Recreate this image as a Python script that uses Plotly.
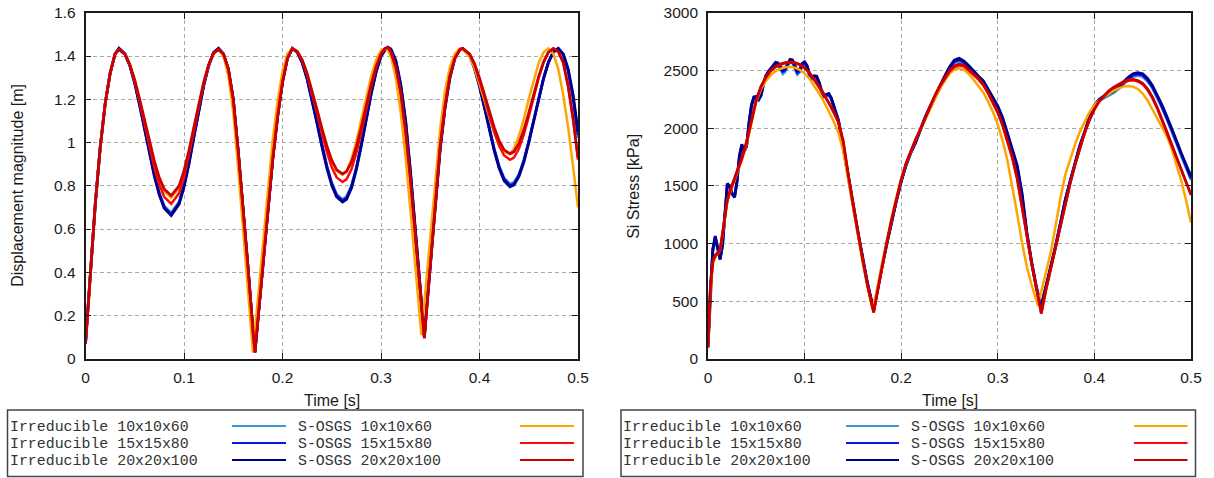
import plotly.graph_objects as go

W, H = 1214, 478

# ---------------- data: displacement magnitude [m] ----------------
D_T = [0, 0.005, 0.01, 0.015, 0.02, 0.025, 0.03, 0.034, 0.04, 0.045,
       0.05, 0.055, 0.06, 0.065, 0.07, 0.075, 0.08, 0.087, 0.095, 0.1,
       0.105, 0.11, 0.115, 0.12, 0.125, 0.13, 0.135, 0.14, 0.145, 0.15,
       0.155, 0.16, 0.165, 0.17, 0.172, 0.175, 0.18, 0.185, 0.19, 0.195,
       0.2, 0.205, 0.21, 0.215, 0.22, 0.225, 0.23, 0.235, 0.24, 0.245,
       0.25, 0.255, 0.261, 0.265, 0.27, 0.275, 0.28, 0.285, 0.29, 0.295,
       0.3, 0.304, 0.307, 0.31, 0.315, 0.32, 0.325, 0.33, 0.335, 0.341,
       0.344, 0.348, 0.352, 0.356, 0.36, 0.365, 0.37, 0.375, 0.38, 0.383,
       0.39, 0.395, 0.4, 0.405, 0.41, 0.415, 0.42, 0.425, 0.431, 0.435,
       0.44, 0.445, 0.45, 0.455, 0.46, 0.465, 0.47, 0.475, 0.48, 0.485,
       0.49, 0.495, 0.5]

D_IRR10 = [0.07, 0.40, 0.72, 0.98, 1.18, 1.32, 1.41, 1.435, 1.41, 1.358,
           1.278, 1.178, 1.068, 0.956, 0.853, 0.767, 0.707, 0.675, 0.726, 0.805,
           0.909, 1.030, 1.152, 1.265, 1.355, 1.415, 1.435, 1.41, 1.34, 1.20,
           0.96, 0.70, 0.42, 0.13, 0.035, 0.18, 0.42, 0.67, 0.92, 1.12,
           1.28, 1.39, 1.435, 1.418, 1.372, 1.298, 1.204, 1.099, 0.993, 0.895,
           0.815, 0.761, 0.737, 0.750, 0.801, 0.886, 0.994, 1.113, 1.229, 1.329,
           1.399, 1.428, 1.44, 1.43, 1.375, 1.26, 1.09, 0.85, 0.58, 0.26,
           0.10, 0.33, 0.55, 0.77, 0.975, 1.17, 1.31, 1.395, 1.43, 1.435,
           1.404, 1.345, 1.264, 1.168, 1.067, 0.972, 0.892, 0.836, 0.808, 0.816,
           0.854, 0.920, 1.007, 1.106, 1.206, 1.298, 1.372, 1.42, 1.435, 1.405,
           1.33, 1.20, 1.02]

D_IRR15 = [0.07, 0.40, 0.72, 0.98, 1.18, 1.32, 1.41, 1.435, 1.41, 1.357,
           1.276, 1.175, 1.064, 0.951, 0.848, 0.762, 0.701, 0.668, 0.720, 0.800,
           0.905, 1.027, 1.150, 1.264, 1.355, 1.416, 1.435, 1.41, 1.34, 1.20,
           0.96, 0.70, 0.42, 0.13, 0.03, 0.18, 0.42, 0.67, 0.92, 1.12,
           1.28, 1.39, 1.435, 1.418, 1.371, 1.296, 1.201, 1.095, 0.988, 0.889,
           0.809, 0.755, 0.731, 0.744, 0.795, 0.881, 0.990, 1.110, 1.227, 1.328,
           1.399, 1.428, 1.44, 1.431, 1.378, 1.265, 1.095, 0.855, 0.585, 0.265,
           0.10, 0.325, 0.545, 0.765, 0.97, 1.165, 1.305, 1.392, 1.43, 1.435,
           1.404, 1.344, 1.262, 1.165, 1.063, 0.967, 0.886, 0.830, 0.802, 0.810,
           0.848, 0.915, 1.003, 1.103, 1.204, 1.297, 1.371, 1.42, 1.435, 1.408,
           1.335, 1.21, 1.035]

D_IRR20 = [0.07, 0.40, 0.72, 0.98, 1.18, 1.32, 1.41, 1.435, 1.41, 1.356,
           1.274, 1.172, 1.061, 0.947, 0.843, 0.757, 0.696, 0.663, 0.715, 0.795,
           0.901, 1.024, 1.149, 1.264, 1.355, 1.416, 1.435, 1.41, 1.34, 1.20,
           0.96, 0.70, 0.42, 0.13, 0.03, 0.18, 0.42, 0.67, 0.92, 1.12,
           1.28, 1.39, 1.435, 1.418, 1.370, 1.294, 1.198, 1.091, 0.983, 0.884,
           0.803, 0.749, 0.725, 0.738, 0.790, 0.876, 0.986, 1.107, 1.225, 1.327,
           1.399, 1.428, 1.44, 1.432, 1.38, 1.27, 1.10, 0.86, 0.59, 0.27,
           0.10, 0.32, 0.54, 0.76, 0.967, 1.16, 1.30, 1.39, 1.43, 1.435,
           1.404, 1.343, 1.260, 1.162, 1.059, 0.962, 0.881, 0.824, 0.796, 0.804,
           0.843, 0.910, 0.999, 1.100, 1.202, 1.296, 1.371, 1.419, 1.435, 1.41,
           1.34, 1.22, 1.05]

D_SOS10 = [0.07, 0.40, 0.72, 0.98, 1.18, 1.32, 1.41, 1.43, 1.409, 1.360,
           1.288, 1.197, 1.098, 0.997, 0.905, 0.828, 0.775, 0.745, 0.791, 0.862,
           0.956, 1.065, 1.176, 1.278, 1.359, 1.413, 1.43, 1.40, 1.31, 1.14,
           0.88, 0.61, 0.33, 0.03, 0.13, 0.28, 0.53, 0.78, 1.01, 1.19,
           1.33, 1.41, 1.435, 1.421, 1.381, 1.318, 1.240, 1.151, 1.063, 0.981,
           0.915, 0.870, 0.851, 0.869, 0.923, 1.006, 1.106, 1.210, 1.306, 1.381,
           1.426, 1.435, 1.425, 1.40, 1.30, 1.14, 0.93, 0.68, 0.42, 0.11,
           0.26, 0.47, 0.68, 0.89, 1.06, 1.24, 1.35, 1.41, 1.435, 1.43,
           1.397, 1.344, 1.274, 1.195, 1.116, 1.045, 0.990, 0.956, 0.949, 0.973,
           1.030, 1.109, 1.201, 1.291, 1.367, 1.417, 1.435, 1.41, 1.34, 1.22,
           1.07, 0.89, 0.70]

D_SOS15 = [0.07, 0.40, 0.72, 0.98, 1.18, 1.32, 1.41, 1.43, 1.408, 1.357,
           1.282, 1.188, 1.084, 0.979, 0.883, 0.804, 0.748, 0.717, 0.765, 0.839,
           0.937, 1.050, 1.166, 1.272, 1.357, 1.412, 1.43, 1.41, 1.34, 1.20,
           0.96, 0.70, 0.42, 0.13, 0.03, 0.18, 0.42, 0.67, 0.92, 1.12,
           1.28, 1.39, 1.435, 1.420, 1.378, 1.312, 1.229, 1.137, 1.043, 0.957,
           0.886, 0.839, 0.818, 0.830, 0.876, 0.952, 1.048, 1.155, 1.258, 1.346,
           1.408, 1.435, 1.44, 1.42, 1.35, 1.23, 1.05, 0.82, 0.56, 0.25,
           0.095, 0.32, 0.55, 0.77, 0.98, 1.17, 1.31, 1.39, 1.43, 1.435,
           1.408, 1.360, 1.291, 1.211, 1.127, 1.049, 0.984, 0.940, 0.920, 0.930,
           0.971, 1.037, 1.120, 1.211, 1.298, 1.369, 1.417, 1.435, 1.42, 1.37,
           1.26, 1.11, 0.92]

D_SOS20 = [0.07, 0.40, 0.72, 0.98, 1.18, 1.32, 1.41, 1.43, 1.409, 1.361,
           1.290, 1.200, 1.103, 1.003, 0.913, 0.837, 0.784, 0.755, 0.800, 0.870,
           0.963, 1.071, 1.180, 1.280, 1.360, 1.413, 1.43, 1.41, 1.34, 1.20,
           0.96, 0.70, 0.42, 0.13, 0.03, 0.18, 0.42, 0.67, 0.92, 1.12,
           1.28, 1.39, 1.435, 1.421, 1.382, 1.320, 1.242, 1.154, 1.066, 0.985,
           0.919, 0.874, 0.855, 0.866, 0.909, 0.981, 1.072, 1.171, 1.269, 1.351,
           1.410, 1.435, 1.44, 1.42, 1.35, 1.23, 1.05, 0.82, 0.56, 0.25,
           0.095, 0.32, 0.55, 0.77, 0.98, 1.17, 1.31, 1.39, 1.43, 1.435,
           1.410, 1.364, 1.299, 1.223, 1.144, 1.070, 1.008, 0.966, 0.948, 0.958,
           0.996, 1.059, 1.137, 1.223, 1.305, 1.373, 1.418, 1.435, 1.42, 1.37,
           1.26, 1.11, 0.93]

# ---------------- data: Si stress [kPa] ----------------
IS_T = [0, 0.0025, 0.005, 0.0075, 0.01, 0.0125, 0.015, 0.0175, 0.02, 0.0225,
        0.025, 0.0275, 0.03, 0.0325, 0.035, 0.0375, 0.04, 0.0425, 0.045, 0.0475,
        0.05, 0.0525, 0.055, 0.0575, 0.06, 0.0625, 0.065, 0.0675, 0.07, 0.0725,
        0.075, 0.0775, 0.08, 0.0825, 0.085, 0.0875, 0.09, 0.0925, 0.095, 0.0975,
        0.1, 0.1025, 0.105, 0.1075, 0.11, 0.1125, 0.115, 0.1175, 0.12, 0.1225,
        0.125, 0.1275, 0.13, 0.1325, 0.135, 0.1375, 0.14, 0.145, 0.15, 0.155,
        0.16, 0.165, 0.1715, 0.175, 0.18, 0.185, 0.19, 0.195, 0.2, 0.205,
        0.21, 0.215, 0.22, 0.225, 0.23, 0.235, 0.24, 0.245, 0.25, 0.255,
        0.26, 0.265, 0.27, 0.275, 0.28, 0.285, 0.29, 0.295, 0.3, 0.305,
        0.31, 0.315, 0.32, 0.325, 0.33, 0.335, 0.34, 0.345, 0.35, 0.355,
        0.36, 0.365, 0.37, 0.375, 0.38, 0.385, 0.39, 0.395, 0.4, 0.405,
        0.41, 0.415, 0.42, 0.425, 0.43, 0.435, 0.44, 0.445, 0.45, 0.455,
        0.46, 0.465, 0.47, 0.475, 0.48, 0.485, 0.49, 0.495, 0.5]

S_IRR10 = [100, 620, 940, 1040, 950, 870, 990, 1270, 1500, 1490,
           1430, 1410, 1530, 1740, 1840, 1790, 1840, 2040, 2190, 2260,
           2260, 2240, 2280, 2380, 2450, 2480, 2500, 2530, 2550, 2545,
           2500, 2470, 2490, 2540, 2570, 2565, 2510, 2465, 2485, 2540,
           2555, 2520, 2450, 2420, 2435, 2430, 2380, 2310, 2270, 2280,
           2285, 2250, 2190, 2130, 2060, 1950, 1820, 1590, 1340, 1100,
           870, 650, 430, 590, 800, 1000, 1195, 1370, 1535, 1675,
           1785, 1875, 1985, 2090, 2180, 2260, 2340, 2430, 2505, 2565,
           2580, 2560, 2520, 2475, 2435, 2395, 2325, 2255, 2175, 2075,
           1945, 1790, 1650, 1410, 1080, 830, 610, 470, 630, 810,
           990, 1190, 1385, 1545, 1700, 1845, 1960, 2090, 2190, 2235,
           2260, 2285, 2305, 2340, 2380, 2420, 2445, 2455, 2445, 2405,
           2345, 2265, 2175, 2075, 1975, 1865, 1755, 1650, 1550]

S_IRR15 = [100, 610, 945, 1055, 955, 865, 985, 1275, 1510, 1495,
           1430, 1405, 1535, 1750, 1850, 1795, 1845, 2045, 2195, 2265,
           2268, 2248, 2285, 2385, 2452, 2485, 2508, 2538, 2560, 2555,
           2515, 2490, 2505, 2552, 2582, 2578, 2525, 2480, 2498, 2550,
           2565, 2532, 2462, 2432, 2445, 2440, 2390, 2320, 2278, 2288,
           2292, 2258, 2195, 2135, 2065, 1955, 1825, 1595, 1345, 1105,
           875, 655, 425, 585, 795, 995, 1192, 1370, 1538, 1678,
           1788, 1878, 1988, 2095, 2185, 2270, 2350, 2440, 2518, 2578,
           2592, 2570, 2530, 2482, 2442, 2402, 2332, 2262, 2182, 2082,
           1952, 1800, 1665, 1425, 1090, 835, 615, 460, 625, 805,
           985, 1185, 1382, 1542, 1700, 1848, 1965, 2095, 2195, 2242,
           2270, 2298, 2318, 2350, 2390, 2430, 2458, 2468, 2458, 2418,
           2358, 2278, 2188, 2088, 1988, 1878, 1768, 1665, 1565]

S_IRR20 = [100, 600, 950, 1065, 960, 860, 980, 1280, 1520, 1500,
           1430, 1400, 1540, 1760, 1860, 1800, 1850, 2050, 2200, 2270,
           2275, 2255, 2290, 2390, 2455, 2490, 2515, 2545, 2570, 2565,
           2530, 2505, 2520, 2565, 2595, 2590, 2540, 2495, 2510, 2560,
           2575, 2545, 2475, 2445, 2455, 2450, 2400, 2330, 2285, 2295,
           2300, 2265, 2200, 2140, 2070, 1960, 1830, 1600, 1350, 1110,
           880, 660, 420, 580, 790, 990, 1190, 1370, 1540, 1680,
           1790, 1880, 1990, 2100, 2190, 2280, 2360, 2450, 2530, 2590,
           2605, 2580, 2540, 2490, 2450, 2410, 2340, 2270, 2190, 2090,
           1960, 1810, 1680, 1440, 1100, 840, 620, 450, 620, 800,
           980, 1180, 1380, 1540, 1700, 1850, 1970, 2100, 2200, 2250,
           2280, 2310, 2330, 2360, 2400, 2440, 2470, 2480, 2470, 2430,
           2370, 2290, 2200, 2100, 2000, 1890, 1780, 1680, 1580]

SS_T = [0, 0.0025, 0.005, 0.0075, 0.01, 0.0125, 0.015, 0.0175, 0.02, 0.0225,
        0.025, 0.03, 0.035, 0.04, 0.045, 0.05, 0.055, 0.06, 0.065, 0.07,
        0.075, 0.08, 0.085, 0.09, 0.095, 0.1, 0.105, 0.11, 0.115, 0.12,
        0.125, 0.13, 0.135, 0.14, 0.145, 0.15, 0.155, 0.16, 0.165, 0.17,
        0.1715, 0.175, 0.18, 0.185, 0.19, 0.195, 0.2, 0.205, 0.21, 0.215,
        0.22, 0.225, 0.23, 0.235, 0.24, 0.245, 0.25, 0.255, 0.26, 0.265,
        0.27, 0.275, 0.28, 0.285, 0.29, 0.295, 0.3, 0.305, 0.31, 0.315,
        0.32, 0.325, 0.33, 0.335, 0.34, 0.3415, 0.345, 0.35, 0.355, 0.36,
        0.365, 0.37, 0.375, 0.38, 0.385, 0.39, 0.395, 0.4, 0.405, 0.41,
        0.415, 0.42, 0.425, 0.43, 0.435, 0.44, 0.445, 0.45, 0.455, 0.46,
        0.465, 0.47, 0.475, 0.48, 0.485, 0.49, 0.495, 0.5]

S_SOS10 = [100, 580, 820, 880, 910, 940, 1070, 1230, 1360, 1430,
           1490, 1600, 1720, 1860, 2060, 2230, 2340, 2410, 2460, 2495,
           2515, 2528, 2532, 2525, 2505, 2475, 2430, 2370, 2300, 2230,
           2150, 2060, 1960, 1800, 1560, 1310, 1070, 840, 630, 443,
           470, 600, 820, 1030, 1220, 1400, 1560, 1690, 1800, 1900,
           1990, 2080, 2170, 2260, 2340, 2410, 2470, 2510, 2520, 2505,
           2470, 2420, 2370, 2310, 2230, 2140, 2030, 1890, 1720, 1500,
           1260, 1010, 800, 640, 500, 460, 580, 760, 930, 1160,
           1400, 1600, 1740, 1860, 1970, 2060, 2140, 2200, 2240, 2270,
           2300, 2325, 2345, 2360, 2365, 2360, 2340, 2300, 2240, 2160,
           2080, 2010, 1930, 1820, 1690, 1540, 1370, 1180]

S_SOS15 = [100, 600, 840, 890, 910, 940, 1080, 1240, 1370, 1440,
           1500, 1610, 1730, 1870, 2070, 2240, 2360, 2440, 2495, 2530,
           2550, 2565, 2570, 2565, 2550, 2520, 2480, 2420, 2355, 2290,
           2220, 2140, 2050, 1880, 1600, 1340, 1100, 860, 640, 450,
           400, 560, 790, 1000, 1200, 1380, 1550, 1690, 1800, 1900,
           1990, 2090, 2190, 2280, 2360, 2430, 2490, 2530, 2545, 2535,
           2500, 2460, 2420, 2370, 2300, 2220, 2130, 2020, 1890, 1740,
           1560, 1330, 1070, 820, 600, 540, 390, 600, 790, 960,
           1150, 1350, 1520, 1680, 1830, 1960, 2070, 2160, 2230, 2280,
           2320, 2350, 2375, 2395, 2410, 2415, 2405, 2380, 2330, 2260,
           2170, 2070, 1960, 1850, 1740, 1630, 1530, 1430]

S_SOS20 = [100, 620, 850, 900, 920, 950, 1090, 1250, 1380, 1450,
           1510, 1620, 1745, 1885, 2080, 2250, 2365, 2445, 2500, 2535,
           2555, 2568, 2572, 2568, 2552, 2522, 2482, 2425, 2360, 2295,
           2225, 2145, 2055, 1890, 1610, 1350, 1105, 865, 645, 455,
           405, 565, 795, 1005, 1205, 1385, 1555, 1695, 1805, 1905,
           1995, 2095, 2195, 2285, 2368, 2440, 2500, 2540, 2555, 2545,
           2510, 2470, 2430, 2380, 2310, 2230, 2140, 2030, 1900, 1750,
           1570, 1340, 1080, 830, 610, 545, 395, 605, 795, 965,
           1155, 1355, 1525, 1685, 1835, 1965, 2075, 2165, 2235, 2285,
           2325, 2355, 2382, 2402, 2418, 2422, 2412, 2388, 2340, 2270,
           2180, 2080, 1970, 1860, 1750, 1640, 1535, 1420]

# ---------------- labels / ticks ----------------
IRR_NAMES = ["Irreducible 10x10x60", "Irreducible 15x15x80", "Irreducible 20x20x100"]
SOS_NAMES = ["S-OSGS 10x10x60", "S-OSGS 15x15x80", "S-OSGS 20x20x100"]
IRR_COLORS = ["#3b9ad6", "#0a14f0", "#00008f"]
SOS_COLORS = ["#ffa500", "#ff0a0a", "#c80000"]

X_TICKS = [0, 0.1, 0.2, 0.3, 0.4, 0.5]
X_TICKTEXT = ["0", "0.1", "0.2", "0.3", "0.4", "0.5"]
Y1_TICKS = [0, 0.2, 0.4, 0.6, 0.8, 1.0, 1.2, 1.4, 1.6]
Y1_TICKTEXT = ["0", "0.2", "0.4", "0.6", "0.8", "1", "1.2", "1.4", "1.6"]
Y2_TICKS = [0, 500, 1000, 1500, 2000, 2500, 3000]
Y2_TICKTEXT = ["0", "500", "1000", "1500", "2000", "2500", "3000"]

X_TITLE = "Time [s]"
Y1_TITLE = "Displacement magnitude [m]"
Y2_TITLE = "Si Stress [kPa]"

# ---------------- placement helpers (pixel -> paper) ----------------
def px(x):
    return x / W

def py(y):
    return 1 - y / H

fig = go.Figure()

disp_sets = [(D_T, D_IRR10), (D_T, D_IRR15), (D_T, D_IRR20),
             (D_T, D_SOS10), (D_T, D_SOS15), (D_T, D_SOS20)]
stress_sets = [(IS_T, S_IRR10), (IS_T, S_IRR15), (IS_T, S_IRR20),
               (SS_T, S_SOS10), (SS_T, S_SOS15), (SS_T, S_SOS20)]
names = IRR_NAMES + SOS_NAMES
colors = IRR_COLORS + SOS_COLORS
widths = [2.7, 2.7, 2.9, 2.5, 2.5, 2.7]

for (t, v), n, c, w in zip(disp_sets, names, colors, widths):
    fig.add_trace(go.Scatter(x=t, y=v, mode="lines", name=n,
                             line=dict(color=c, width=w),
                             xaxis="x", yaxis="y", showlegend=False))
for (t, v), n, c, w in zip(stress_sets, names, colors, widths):
    fig.add_trace(go.Scatter(x=t, y=v, mode="lines", name=n,
                             line=dict(color=c, width=w),
                             xaxis="x2", yaxis="y2", showlegend=False))

tick_font = dict(family="Liberation Sans, Arial, sans-serif", size=15.5, color="#1a1a1a")
axis_common = dict(showgrid=True, gridcolor="#a8a8a8", gridwidth=1, griddash="4px,3px",
                   showline=True, linecolor="#1a1a1a", linewidth=1.6, mirror="ticks",
                   ticks="inside", ticklen=6, tickwidth=1.2, tickcolor="#1a1a1a",
                   zeroline=False, tickfont=tick_font, ticklabeloverflow="allow",
                   automargin=False)

fig.update_layout(
    width=W, height=H, autosize=False,
    margin=dict(l=0, r=0, t=0, b=0, autoexpand=False),
    paper_bgcolor="white", plot_bgcolor="white",
    xaxis=dict(domain=[px(85.5), px(578)], range=[0, 0.5], tickvals=X_TICKS,
               ticktext=X_TICKTEXT, anchor="y", ticklabelstandoff=4, **axis_common),
    yaxis=dict(domain=[py(358.8), py(12.8)], range=[0, 1.6], tickvals=Y1_TICKS,
               ticktext=Y1_TICKTEXT, anchor="x", ticklabelstandoff=5, **axis_common),
    xaxis2=dict(domain=[px(708), px(1191)], range=[0, 0.5], tickvals=X_TICKS,
                ticktext=X_TICKTEXT, anchor="y2", ticklabelstandoff=4, **axis_common),
    yaxis2=dict(domain=[py(358.8), py(12.8)], range=[0, 3000], tickvals=Y2_TICKS,
                ticktext=Y2_TICKTEXT, anchor="x2", ticklabelstandoff=5, **axis_common),
)

title_font = dict(family="Liberation Sans, Arial, sans-serif", size=16, color="#1a1a1a")
annotations = [
    dict(x=px(331.8), y=py(400.5), text=X_TITLE, showarrow=False, xref="paper", yref="paper",
         xanchor="center", yanchor="middle", font=title_font),
    dict(x=px(949.5), y=py(400.5), text=X_TITLE, showarrow=False, xref="paper", yref="paper",
         xanchor="center", yanchor="middle", font=title_font),
    dict(x=px(18), y=py(185.8), text=Y1_TITLE, showarrow=False, xref="paper", yref="paper",
         xanchor="center", yanchor="middle", textangle=-90, font=title_font),
    dict(x=px(634), y=py(185.8), text=Y2_TITLE, showarrow=False, xref="paper", yref="paper",
         xanchor="center", yanchor="middle", textangle=-90, font=title_font),
]

shapes = []
legend_font = dict(family="Liberation Mono, Courier New, monospace", size=14.9, color="#333333")
# (box_x0, box_x1, text1_x, line1_x0, line1_x1, text2_x, line2_x0, line2_x1)
legend_boxes = [
    (7.5, 583, 8.5, 232, 286, 296.5, 520, 574),
    (621, 1195.5, 622.5, 846, 899, 910, 1134, 1187.5),
]
row_y = [426.5, 443.5, 460.5]
for bx0, bx1, tx1, l1a, l1b, tx2, l2a, l2b in legend_boxes:
    shapes.append(dict(type="rect", xref="paper", yref="paper",
                       x0=px(bx0), x1=px(bx1), y0=py(476.5), y1=py(410),
                       line=dict(color="#444444", width=1.5), fillcolor="rgba(0,0,0,0)"))
    for i, ry in enumerate(row_y):
        for tx, txt in ((tx1, IRR_NAMES[i]), (tx2, SOS_NAMES[i])):
            annotations.append(dict(x=px(tx), y=py(ry), text=txt, showarrow=False,
                                    xref="paper", yref="paper", xanchor="left",
                                    yanchor="middle", borderpad=0, font=legend_font))
        shapes.append(dict(type="line", xref="paper", yref="paper",
                           x0=px(l1a), x1=px(l1b), y0=py(ry - 0.5), y1=py(ry - 0.5),
                           line=dict(color=IRR_COLORS[i], width=2.2)))
        shapes.append(dict(type="line", xref="paper", yref="paper",
                           x0=px(l2a), x1=px(l2b), y0=py(ry - 0.5), y1=py(ry - 0.5),
                           line=dict(color=SOS_COLORS[i], width=2.2)))

fig.update_layout(annotations=annotations, shapes=shapes)

fig.write_html("out.html")
